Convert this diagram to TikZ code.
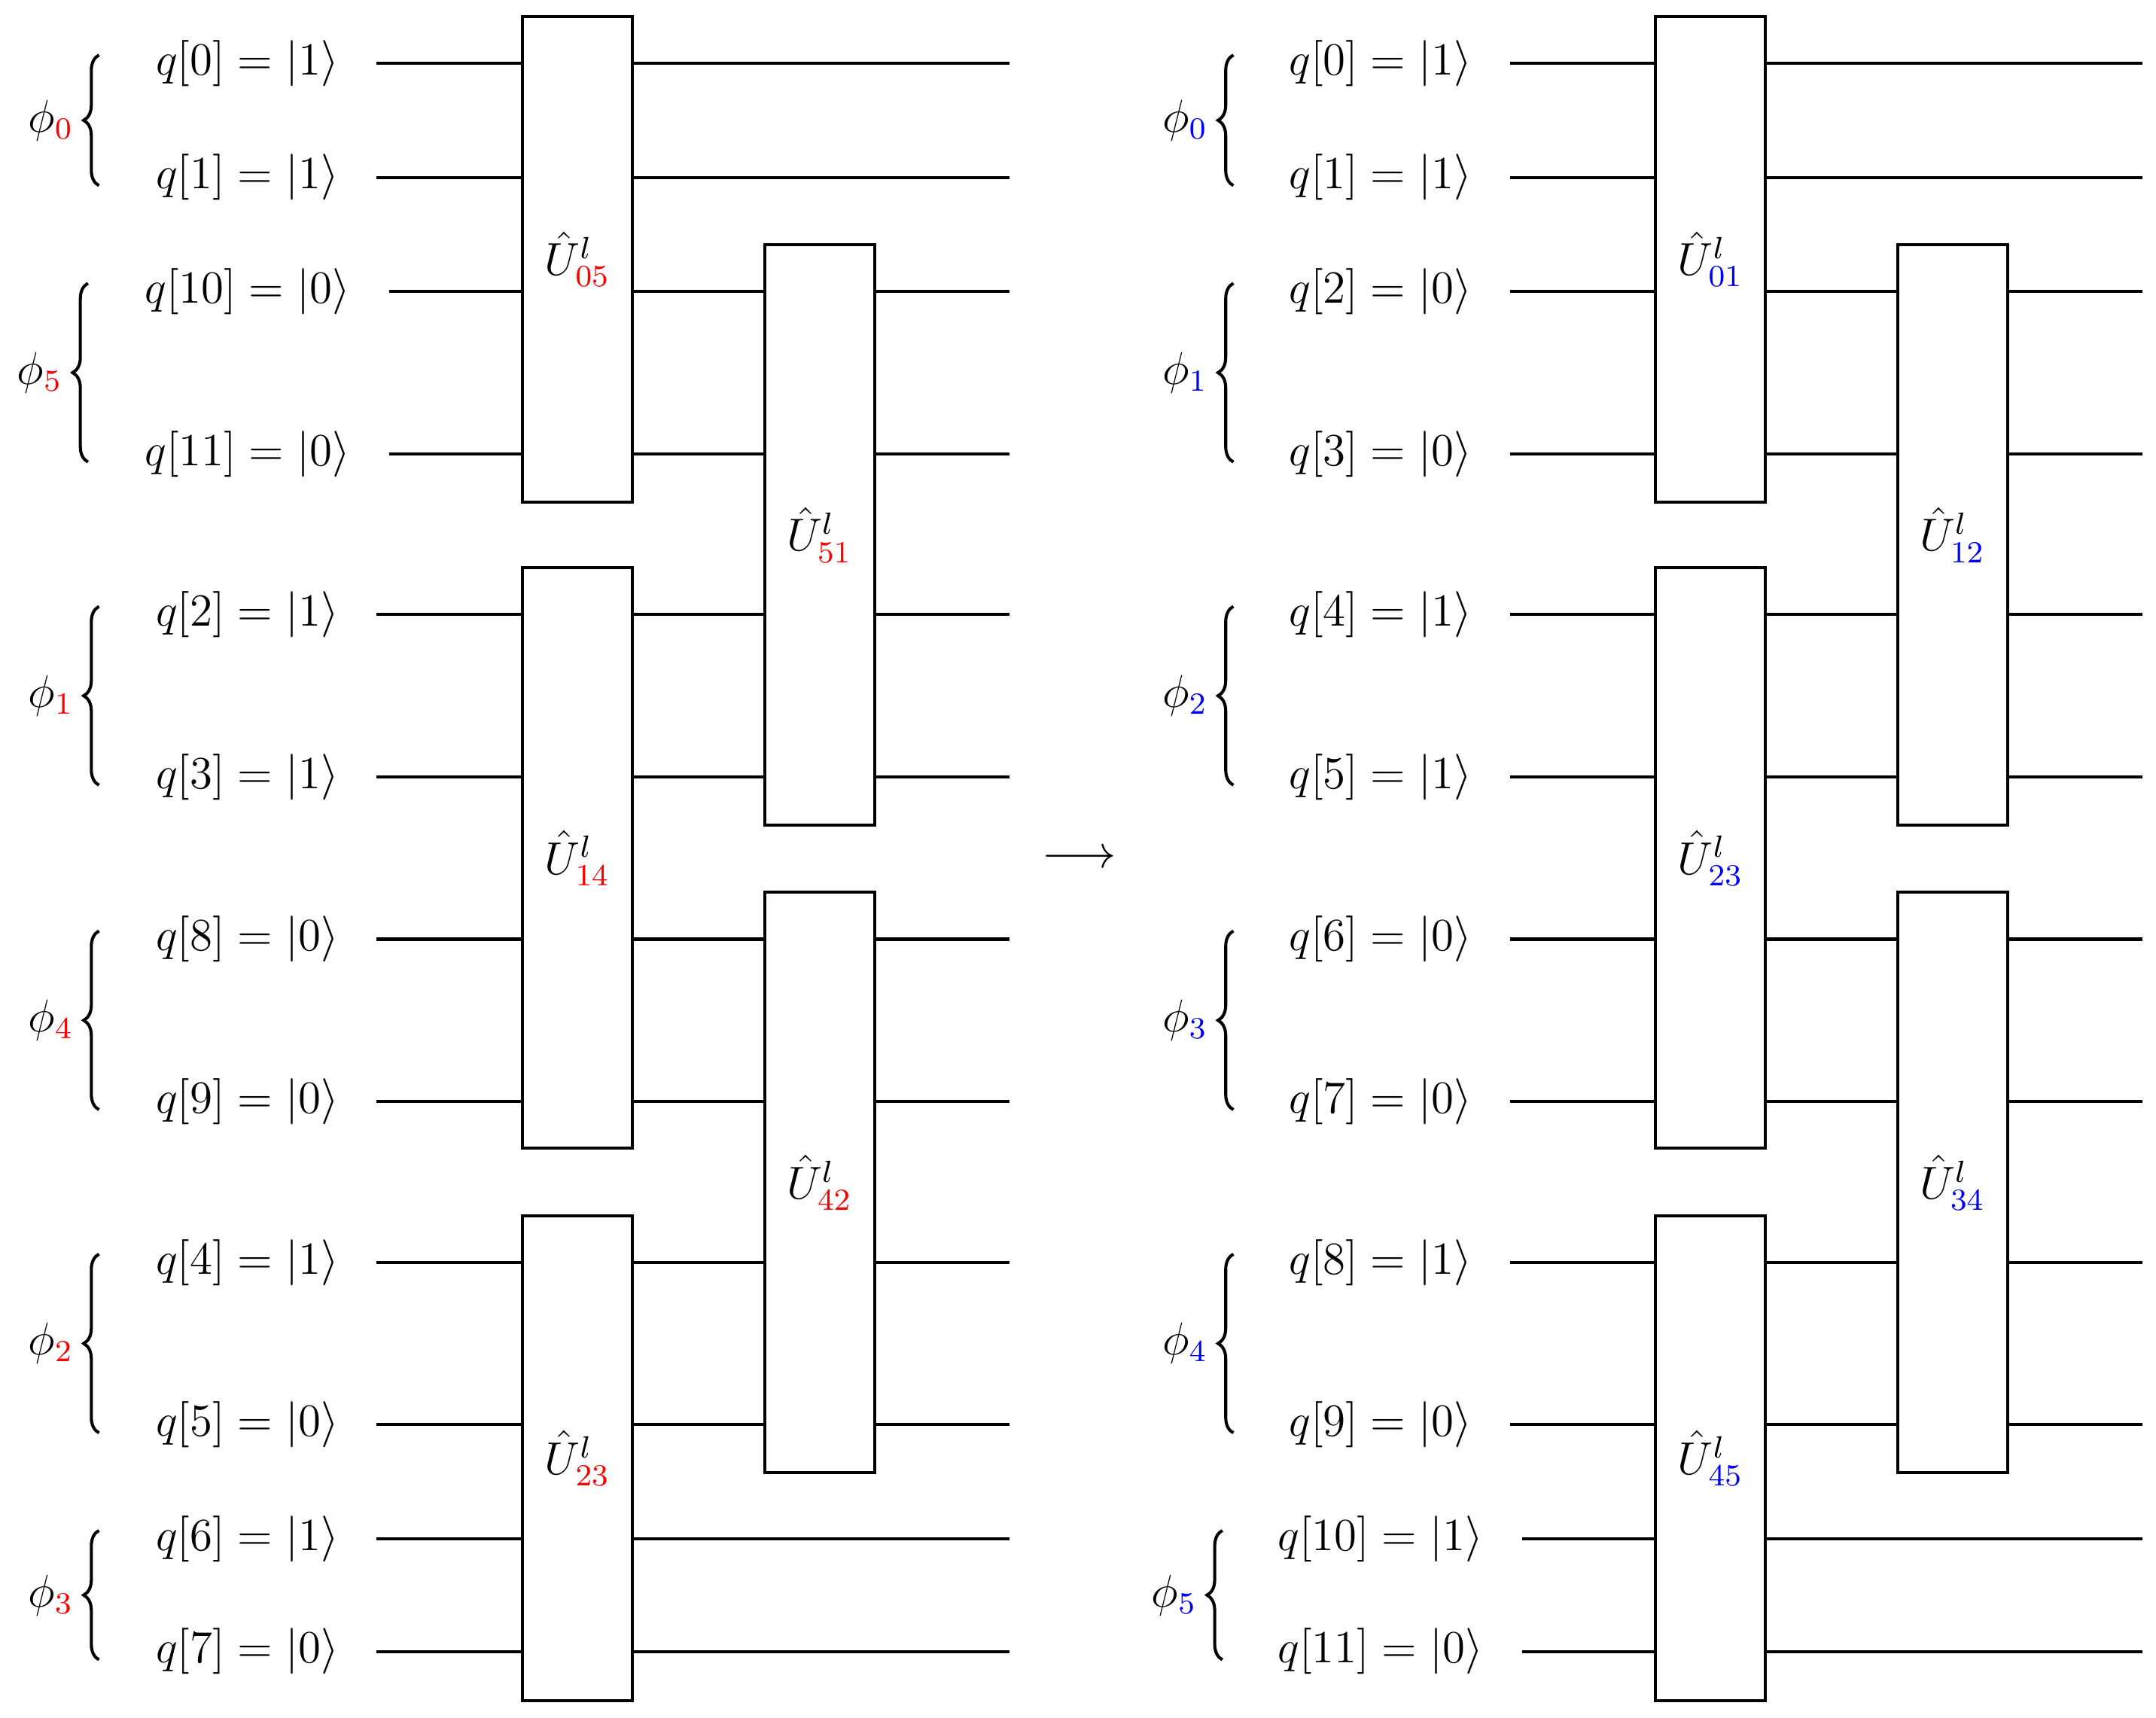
\documentclass[tikz,border=0pt]{standalone}
\usetikzlibrary{decorations.pathreplacing}
\usepackage{xcolor}

\begin{document}
\begin{tikzpicture}[x=0.0126cm,y=-0.0126cm,line width=0.8pt,
  gatebox/.style={draw,fill=white},
  qlabel/.style={font=\large},
  bracedeco/.style={decorate,decoration={brace,amplitude=4pt}}]
\useasboundingbox (0,0) rectangle (1568,1249);

% left circuit: wires
\foreach \y/\lab [count=\i] in {46/{q[0] = |1\rangle},129/{q[1] = |1\rangle},447/{q[2] = |1\rangle},565/{q[3] = |1\rangle},683/{q[8] = |0\rangle},801/{q[9] = |0\rangle},918/{q[4] = |1\rangle},1036/{q[5] = |0\rangle},1119/{q[6] = |1\rangle},1201/{q[7] = |0\rangle}}{
  \node[qlabel] (la\i) at (180,\y) {$\lab$};
  \draw (274,\y) -- (734,\y);
}
\node[qlabel] (lq10) at (180,212) {$q[10] = |0\rangle$};
\node[qlabel] (lq11) at (180,330) {$q[11] = |0\rangle$};
\draw (283,212) -- (734,212);
\draw (283,330) -- (734,330);

% left braces
\foreach \a/\b/\x/\k in {40/135/72/0,206/336/64/5,441/571/72/1,677/807/72/4,912/1042/72/2,1113/1207/72/3}{
  \draw[bracedeco] (\x,\b) -- (\x,\a)
    node[midway,left=3pt,qlabel] {$\phi_{\color{red}\k}$};
}

% left gates
\node[gatebox,minimum width=80*0.0126cm,minimum height=353*0.0126cm,qlabel] (g05) at (420,188.5) {$\hat U^l_{\color{red}05}$};
\node[gatebox,minimum width=80*0.0126cm,minimum height=422*0.0126cm,qlabel] (g14) at (420,624) {$\hat U^l_{\color{red}14}$};
\node[gatebox,minimum width=80*0.0126cm,minimum height=353*0.0126cm,qlabel] (g23) at (420,1060.5) {$\hat U^l_{\color{red}23}$};
\node[gatebox,minimum width=80*0.0126cm,minimum height=422*0.0126cm,qlabel] (g51) at (596,389) {$\hat U^l_{\color{red}51}$};
\node[gatebox,minimum width=80*0.0126cm,minimum height=422*0.0126cm,qlabel] (g42) at (596,860) {$\hat U^l_{\color{red}42}$};

\node[qlabel] (arr) at (785,625) {$\longrightarrow$};

% right circuit: wires
\foreach \y/\lab [count=\i] in {46/{q[0] = |1\rangle},129/{q[1] = |1\rangle},212/{q[2] = |0\rangle},330/{q[3] = |0\rangle},447/{q[4] = |1\rangle},565/{q[5] = |1\rangle},683/{q[6] = |0\rangle},801/{q[7] = |0\rangle},918/{q[8] = |1\rangle},1036/{q[9] = |0\rangle}}{
  \node[qlabel] (ra\i) at (1004,\y) {$\lab$};
  \draw (1098,\y) -- (1558,\y);
}
\node[qlabel] (rq10) at (1004,1119) {$q[10] = |1\rangle$};
\node[qlabel] (rq11) at (1004,1201) {$q[11] = |0\rangle$};
\draw (1107,1119) -- (1558,1119);
\draw (1107,1201) -- (1558,1201);

% right braces
\foreach \a/\b/\x/\k in {40/135/897/0,206/336/897/1,441/571/897/2,677/807/897/3,912/1042/897/4,1113/1207/889/5}{
  \draw[bracedeco] (\x,\b) -- (\x,\a)
    node[midway,left=3pt,qlabel] {$\phi_{\color{blue}\k}$};
}

% right gates
\node[gatebox,minimum width=80*0.0126cm,minimum height=353*0.0126cm,qlabel] (h01) at (1244,188.5) {$\hat U^l_{\color{blue}01}$};
\node[gatebox,minimum width=80*0.0126cm,minimum height=422*0.0126cm,qlabel] (h23) at (1244,624) {$\hat U^l_{\color{blue}23}$};
\node[gatebox,minimum width=80*0.0126cm,minimum height=353*0.0126cm,qlabel] (h45) at (1244,1060.5) {$\hat U^l_{\color{blue}45}$};
\node[gatebox,minimum width=80*0.0126cm,minimum height=422*0.0126cm,qlabel] (h12) at (1420,389) {$\hat U^l_{\color{blue}12}$};
\node[gatebox,minimum width=80*0.0126cm,minimum height=422*0.0126cm,qlabel] (h34) at (1420,860) {$\hat U^l_{\color{blue}34}$};
\end{tikzpicture}
\end{document}
